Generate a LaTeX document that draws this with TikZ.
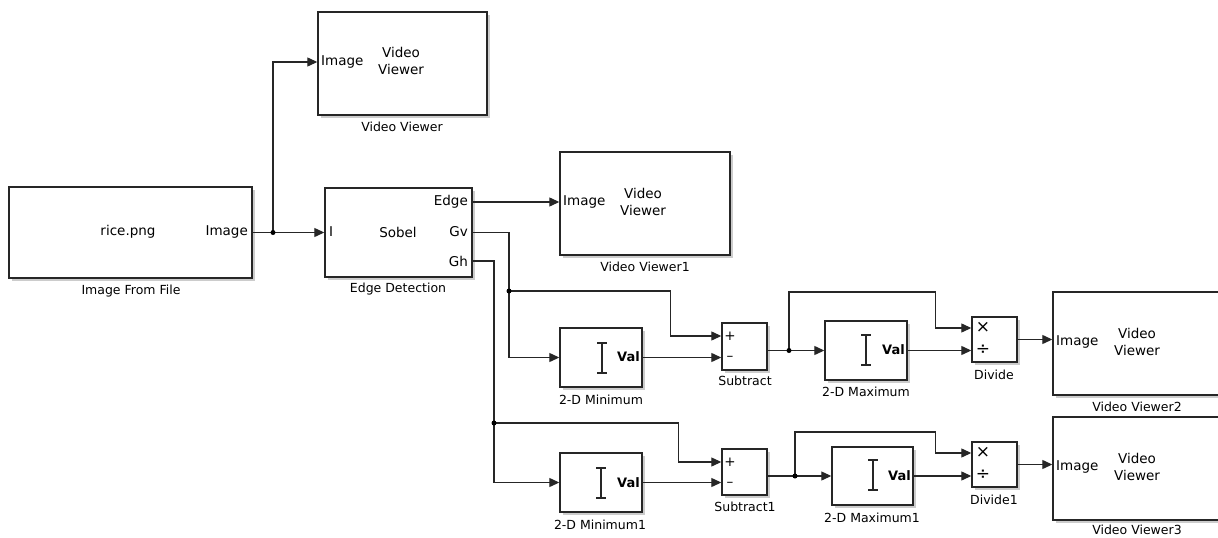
\documentclass[tikz,border=0pt]{standalone}
\usepackage{fontspec}
\setmainfont{DejaVu Sans}
\usetikzlibrary{arrows.meta,shadows,calc}
\begin{document}
\begin{tikzpicture}[x=1pt,y=-1pt,
  blk/.style={draw=black!85,line width=1.4pt,fill=white,inner sep=0pt,
    drop shadow={shadow xshift=2.5pt,shadow yshift=-2.5pt,opacity=0.4}},
  wire/.style={line width=1.2pt,black!85},
  arr/.style={wire,-{Triangle[length=10pt,width=9pt]}},
  txt/.style={inner sep=0pt,font=\fontsize{13.5}{17}\selectfont,align=center},
  sym/.style={inner sep=0pt,font=\fontsize{17}{17}\selectfont},
  lbl/.style={inner sep=0pt,font=\fontsize{12.5}{15}\selectfont},
  val/.style={inner sep=0pt,font=\fontsize{13}{15}\selectfont\bfseries},
  dot/.style={circle,fill=black,inner sep=0pt,minimum size=5pt},
  ibar/.style={line width=1.5pt,black!85}]
\useasboundingbox (0,0) rectangle (1218,538);
\clip (0,0) rectangle (1218,538);
\fill[white] (0,0) rectangle (1218,538);

% blocks
\node[blk,minimum width=243pt,minimum height=91pt] (ifile) at (130.5,232.5) {};
\node[blk,minimum width=169pt,minimum height=103pt] (vv0) at (402.5,63.5) {};
\node[blk,minimum width=147pt,minimum height=89pt] (ed) at (398.5,232.5) {};
\node[blk,minimum width=170pt,minimum height=103pt] (vv1) at (645,203.5) {};
\node[blk,minimum width=82pt,minimum height=59pt] (min0) at (601,357.5) {};
\node[blk,minimum width=45pt,minimum height=47pt] (sub0) at (744.5,346.5) {};
\node[blk,minimum width=82pt,minimum height=59pt] (max0) at (866,350.5) {};
\node[blk,minimum width=45pt,minimum height=45pt] (div0) at (994.5,339.5) {};
\node[blk,minimum width=170pt,minimum height=103pt] (vv2) at (1138,343.5) {};
\node[blk,minimum width=82pt,minimum height=59pt] (min1) at (601,482.5) {};
\node[blk,minimum width=45pt,minimum height=46pt] (sub1) at (744.5,472) {};
\node[blk,minimum width=81pt,minimum height=58pt] (max1) at (872.5,476) {};
\node[blk,minimum width=45pt,minimum height=45pt] (div1) at (994.5,464.5) {};
\node[blk,minimum width=170pt,minimum height=103pt] (vv3) at (1138,468.5) {};

% texts inside blocks
\node[txt] (ifname) at (128,232) {rice.png};
\node[txt,anchor=east] (ifport) at (248,232) {Image};
\node[txt,anchor=west] (vv0in) at (321,62) {Image};
\node[txt] (vv0t) at (401,61) {Video\\Viewer};
\node[txt,anchor=west] (edI) at (329,232) {I};
\node[txt] (edS) at (398,232) {Sobel};
\node[txt,anchor=east] (edEt) at (468,202) {Edge};
\node[txt,anchor=east] (edGvt) at (468,232) {Gv};
\node[txt,anchor=east] (edGht) at (468,261) {Gh};
\node[txt,anchor=west] (vv1in) at (563,202) {Image};
\node[txt] (vv1t) at (643,202) {Video\\Viewer};
\node[txt,anchor=west] (vv2in) at (1056,342) {Image};
\node[txt] (vv2t) at (1137,342) {Video\\Viewer};
\node[txt,anchor=west] (vv3in) at (1056,467) {Image};
\node[txt] (vv3t) at (1137,467) {Video\\Viewer};
\node[val,anchor=east] (min0v) at (640,357) {Val};
\node[val,anchor=east] (max0v) at (905,350) {Val};
\node[val,anchor=east] (min1v) at (640,483) {Val};
\node[val,anchor=east] (max1v) at (911,476) {Val};
\node[txt] (sub0p) at (730,336) {+};
\node[txt] (sub0m) at (730,358) {\textendash};
\node[txt] (sub1p) at (730,462) {+};
\node[txt] (sub1m) at (730,484) {\textendash};
\node[sym] (div0x) at (983,327) {×};
\node[sym] (div0d) at (983,350) {÷};
\node[sym] (div1x) at (983,452) {×};
\node[sym] (div1d) at (983,475) {÷};

% I-bar icons
\draw[ibar] (602,343) -- (602,373) (597,343) -- (607,343) (597,373) -- (607,373);
\draw[ibar] (866,335) -- (866,365) (861,335) -- (871,335) (861,365) -- (871,365);
\draw[ibar] (601,468) -- (601,498) (596,468) -- (606,468) (596,498) -- (606,498);
\draw[ibar] (873,460) -- (873,490) (868,460) -- (878,460) (868,490) -- (878,490);

% block labels
\node[lbl] (ifileL) at (131,291) {Image From File};
\node[lbl] (vv0L) at (402,127) {Video Viewer};
\node[lbl] (edL) at (398,289) {Edge Detection};
\node[lbl] (vv1L) at (645,267) {Video Viewer1};
\node[lbl] (min0L) at (601,400) {2-D Minimum};
\node[lbl] (sub0L) at (745,381) {Subtract};
\node[lbl] (max0L) at (866,392) {2-D Maximum};
\node[lbl] (div0L) at (994,375) {Divide};
\node[lbl] (vv2L) at (1137,407) {Video Viewer2};
\node[lbl] (min1L) at (600,525) {2-D Minimum1};
\node[lbl] (sub1L) at (745,507) {Subtract1};
\node[lbl] (max1L) at (872,518) {2-D Maximum1};
\node[lbl] (div1L) at (994,500) {Divide1};
\node[lbl] (vv3L) at (1137,530) {Video Viewer3};

% ports and junctions
\coordinate (j0) at (273,232.5);
\coordinate (vv0In) at ([yshift=1.5pt]vv0.west);
\coordinate (edE) at ([yshift=30.5pt]ed.east);
\coordinate (edGv) at (ed.east);
\coordinate (edGh) at ([yshift=-28.5pt]ed.east);
\coordinate (jg) at (509,291);
\coordinate (jh) at (494,423);
\coordinate (s0p) at ([yshift=10.5pt]sub0.west);
\coordinate (s1p) at ([yshift=10pt]sub1.west);
\coordinate (js0) at (789,350.5);
\coordinate (js1) at (795,476);
\coordinate (d0x) at ([yshift=11.5pt]div0.west);
\coordinate (d1x) at ([yshift=11.5pt]div1.west);

% connectors
\draw[wire] (ifile.east) -- (j0);
\draw[arr] (j0) -- (ed.west);
\draw[arr] (j0) |- (vv0In);
\draw[arr] (edE) -- (edE -| vv1.west);
\draw[wire] (edGv) -| (jg);
\draw[arr] (jg) |- (min0.west);
\draw[arr] (jg) -| ([xshift=-51pt]s0p) -- (s0p);
\draw[arr] (min0.east) -- (min0.east -| sub0.west);
\draw[wire] (sub0.east |- js0) -- (js0);
\draw[arr] (js0) -- (max0.west);
\draw[arr] (js0) -- ++(0,-58.5) -| ([xshift=-36pt]d0x) -- (d0x);
\draw[arr] (max0.east) -- (max0.east -| div0.west);
\draw[arr] (div0.east) -- (div0.east -| vv2.west);
\draw[wire] (edGh) -| (jh);
\draw[arr] (jh) |- (min1.west);
\draw[arr] (jh) -| ([xshift=-43pt]s1p) -- (s1p);
\draw[arr] (min1.east) -- (min1.east -| sub1.west);
\draw[wire] (sub1.east |- js1) -- (js1);
\draw[arr] (js1) -- (max1.west);
\draw[arr] (js1) -- ++(0,-44) -| ([xshift=-36pt]d1x) -- (d1x);
\draw[arr] (max1.east) -- (max1.east -| div1.west);
\draw[arr] (div1.east) -- (div1.east -| vv3.west);

\node[dot] (d0) at (j0) {};
\node[dot] (d1) at (jg) {};
\node[dot] (d2) at (jh) {};
\node[dot] (d3) at (js0) {};
\node[dot] (d4) at (js1) {};
\end{tikzpicture}
\end{document}
